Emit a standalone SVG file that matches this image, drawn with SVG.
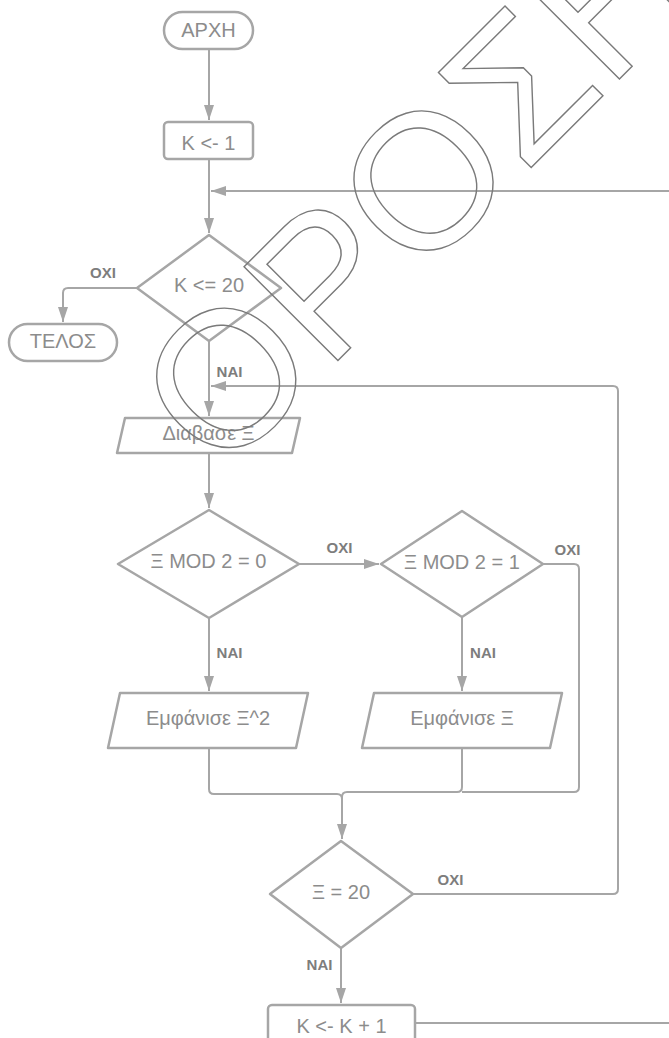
<svg xmlns="http://www.w3.org/2000/svg" width="669" height="1038" viewBox="0 0 669 1038">
<style>
.node{fill:#ffffff;stroke:#a6a6a6;stroke-width:2.5;stroke-linejoin:round}
.t{font-family:"Liberation Sans",Arial,sans-serif;font-size:20px;fill:#8c8c8c;text-anchor:middle}
.lbl{font-family:"Liberation Sans",Arial,sans-serif;font-size:15px;font-weight:bold;fill:#7d7d7d;text-anchor:middle}
.c{fill:none;stroke:#a6a6a6;stroke-width:2}
.wm{font-family:"Liberation Sans",Arial,sans-serif;font-size:193px;fill:none;stroke:#7a7a7a;stroke-width:1.4}
</style>
<defs>
<marker id="arr" viewBox="0 0 15 10" refX="15" refY="5" markerWidth="15" markerHeight="10" markerUnits="userSpaceOnUse" orient="auto">
<path d="M0,0 L15,5 L0,10 z" fill="#a6a6a6"/>
</marker>
</defs>
<rect width="669" height="1038" fill="#ffffff"/>
<g id="connectors">
<path class="c" d="M209,49 V120" marker-end="url(#arr)"/>
<path class="c" d="M209,159 V233" marker-end="url(#arr)"/>
<path class="c" d="M669,191 H211" marker-end="url(#arr)"/>
<path class="c" d="M137,288 H68 Q63,288 63,293 V322" marker-end="url(#arr)"/>
<path class="c" d="M209,341 V416" marker-end="url(#arr)"/>
<path class="c" d="M413,894 H613 Q618,894 618,889 V391 Q618,386 613,386 H211" marker-end="url(#arr)"/>
<path class="c" d="M209,453 V508" marker-end="url(#arr)"/>
<path class="c" d="M299,564 H379" marker-end="url(#arr)"/>
<path class="c" d="M209,618 V691" marker-end="url(#arr)"/>
<path class="c" d="M462,617 V691" marker-end="url(#arr)"/>
<path class="c" d="M543,564 H574 Q579,564 579,569 V787 Q579,792 574,792 H462"/>
<path class="c" d="M462,748 V787 Q462,792 457,792 H347 Q342,792 342,797 V839" marker-end="url(#arr)"/>
<path class="c" d="M209,748 V789 Q209,794 214,794 H337 Q342,794 342,799"/>
<path class="c" d="M341,948 V1003" marker-end="url(#arr)"/>
<path class="c" d="M415,1023 H669"/>
<text class="lbl" x="103" y="278">ΟΧΙ</text>
<text class="lbl" x="229.5" y="377">ΝΑΙ</text>
<text class="lbl" x="339.5" y="553">ΟΧΙ</text>
<text class="lbl" x="567.5" y="555">ΟΧΙ</text>
<text class="lbl" x="229.5" y="658">ΝΑΙ</text>
<text class="lbl" x="483" y="658">ΝΑΙ</text>
<text class="lbl" x="450.5" y="885">ΟΧΙ</text>
<text class="lbl" x="319.5" y="970">ΝΑΙ</text>
</g>
<g id="start">
<rect class="node" x="164" y="12" width="89" height="37" rx="18.5"/>
<text class="t" x="208.5" y="36.5">ΑΡΧΗ</text>
</g>
<g id="init">
<rect class="node" x="164" y="122" width="89" height="37" rx="4"/>
<text class="t" x="208.5" y="150">K &lt;- 1</text>
</g>
<g id="cond-k">
<polygon class="node" points="209,235 281,288 209,341 137,288"/>
<text class="t" x="209" y="292">K &lt;= 20</text>
</g>
<g id="end">
<rect class="node" x="9" y="324" width="108" height="37" rx="18.5"/>
<text class="t" x="63" y="348">ΤΕΛΟΣ</text>
</g>
<g id="read">
<polygon class="node" points="125,418 300,418 292,453 117,453"/>
<text class="t" x="208.5" y="440">Διαβασε Ξ</text>
</g>
<g id="cond-mod0">
<polygon class="node" points="209,510 299,564 209,618 118,564"/>
<text class="t" x="208.5" y="568">Ξ MOD 2 = 0</text>
</g>
<g id="cond-mod1">
<polygon class="node" points="462,511 543,564 462,617 381,564"/>
<text class="t" x="462" y="569">Ξ MOD 2 = 1</text>
</g>
<g id="print-sq">
<polygon class="node" points="120,693 308,693 296,748 108,748"/>
<text class="t" x="208" y="725">Εμφάνισε Ξ^2</text>
</g>
<g id="print-x">
<polygon class="node" points="374,693 562,693 550,748 362,748"/>
<text class="t" x="462" y="725">Εμφάνισε Ξ</text>
</g>
<g id="cond-20">
<polygon class="node" points="341,841 413,894 341,948 270,894"/>
<text class="t" x="341" y="899">Ξ = 20</text>
</g>
<g id="incr">
<rect class="node" x="268" y="1005" width="147" height="40" rx="4"/>
<text class="t" x="341.5" y="1033">K &lt;- K + 1</text>
</g>
<g id="watermark">
<text class="wm" transform="translate(220.6,478) rotate(-45)" x="0" y="0">ΟΡΟΣΗΜΟ</text>
</g>
</svg>
